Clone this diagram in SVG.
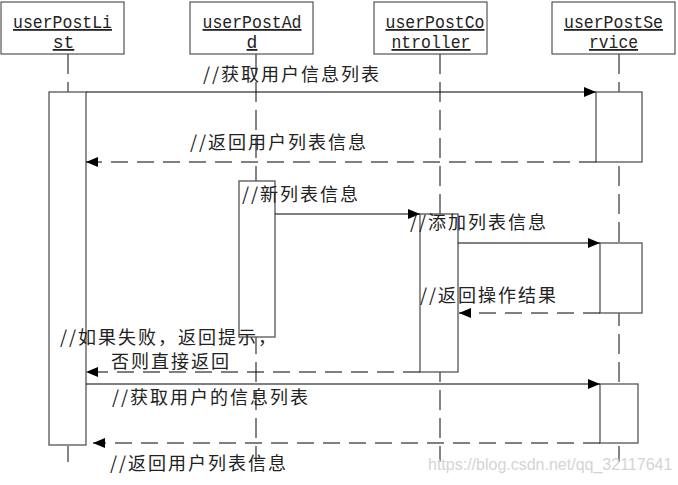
<svg xmlns="http://www.w3.org/2000/svg" width="678" height="485" viewBox="0 0 678 485">
<style>
.hd{fill:#fff;stroke:#333;stroke-width:1}
.ht{font-family:"Liberation Mono",monospace;font-size:18px;fill:#222;text-decoration:underline;text-anchor:middle}
.life{stroke:#444;stroke-width:1.3;stroke-dasharray:20 8;fill:none}
.act{fill:#fff;stroke:#555;stroke-width:1.3}
.msg{stroke:#000;stroke-width:1;fill:none}
.ret{stroke:#000;stroke-width:1;fill:none;stroke-dasharray:17 9}
.lb{font-family:"Noto Sans CJK SC",sans-serif;font-size:18px;letter-spacing:2px;fill:#222}
.wm{font-family:"Liberation Sans",sans-serif;font-size:16px;fill:#d4d4d4}
</style>
<defs>
<marker id="ah" markerUnits="userSpaceOnUse" markerWidth="13" markerHeight="11" refX="12" refY="5" orient="auto">
<path d="M0,0 L12,5 L0,10 z" fill="#000"/>
</marker>
</defs>
<g id="userPostList">
<rect class="hd" x="1" y="2" width="123" height="52"/>
<text class="ht" x="62.5" y="28" textLength="99" lengthAdjust="spacingAndGlyphs">userPostLi</text>
<text class="ht" x="63.5" y="48">st</text>
<line class="life" x1="68" y1="54" x2="68" y2="462"/>
<rect class="act" x="49" y="92" width="37" height="353"/>
</g>
<g id="userPostAdd">
<rect class="hd" x="190" y="2" width="123" height="52"/>
<text class="ht" x="252" y="28" textLength="99" lengthAdjust="spacingAndGlyphs">userPostAd</text>
<text class="ht" x="252" y="48">d</text>
<line class="life" x1="256" y1="54" x2="256" y2="462"/>
<rect class="act" x="239" y="181" width="36" height="156"/>
</g>
<g id="userPostController">
<rect class="hd" x="374" y="2" width="113" height="52"/>
<text class="ht" x="435" y="28" textLength="99" lengthAdjust="spacingAndGlyphs">userPostCo</text>
<text class="ht" x="431" y="48" textLength="79" lengthAdjust="spacingAndGlyphs">ntroller</text>
<line class="life" x1="440" y1="54" x2="440" y2="462"/>
<rect class="act" x="420" y="214" width="38" height="158"/>
</g>
<g id="userPostService">
<rect class="hd" x="552" y="2" width="123" height="52"/>
<text class="ht" x="613.5" y="28" textLength="99" lengthAdjust="spacingAndGlyphs">userPostSe</text>
<text class="ht" x="613.5" y="48" textLength="49" lengthAdjust="spacingAndGlyphs">rvice</text>
<line class="life" x1="619" y1="54" x2="619" y2="462"/>
<rect class="act" x="596" y="92" width="46" height="70"/>
<rect class="act" x="600" y="243" width="42" height="70"/>
<rect class="act" x="600" y="384" width="38" height="59"/>
</g>
<g id="connectors">
<line class="msg" x1="86" y1="92" x2="596" y2="92" marker-end="url(#ah)"/>
<line class="ret" x1="596" y1="162" x2="86" y2="162" marker-end="url(#ah)"/>
<line class="msg" x1="275" y1="214" x2="420" y2="214" marker-end="url(#ah)"/>
<line class="msg" x1="458" y1="243" x2="600" y2="243" marker-end="url(#ah)"/>
<line class="ret" x1="600" y1="313" x2="459" y2="313" marker-end="url(#ah)"/>
<line class="ret" x1="420" y1="372" x2="86" y2="372" marker-end="url(#ah)"/>
<line class="msg" x1="86" y1="384" x2="600" y2="384" marker-end="url(#ah)"/>
<line class="ret" x1="600" y1="443" x2="93" y2="443" marker-end="url(#ah)"/>
</g>
<g id="labels">
<text class="lb" x="203" y="81">//获取用户信息列表</text>
<text class="lb" x="190" y="149">//返回用户列表信息</text>
<text class="lb" x="242" y="201">//新列表信息</text>
<text class="lb" x="410" y="229">//添加列表信息</text>
<text class="lb" x="420" y="302">//返回操作结果</text>
<text class="lb" x="60" y="344">//如果失败，返回提示，</text>
<text class="lb" x="111" y="368">否则直接返回</text>
<text class="lb" x="112" y="404">//获取用户的信息列表</text>
<text class="lb" x="110" y="470">//返回用户列表信息</text>
</g>
<text class="wm" x="428" y="470">https://blog.csdn.net/qq_32117641</text>
</svg>
